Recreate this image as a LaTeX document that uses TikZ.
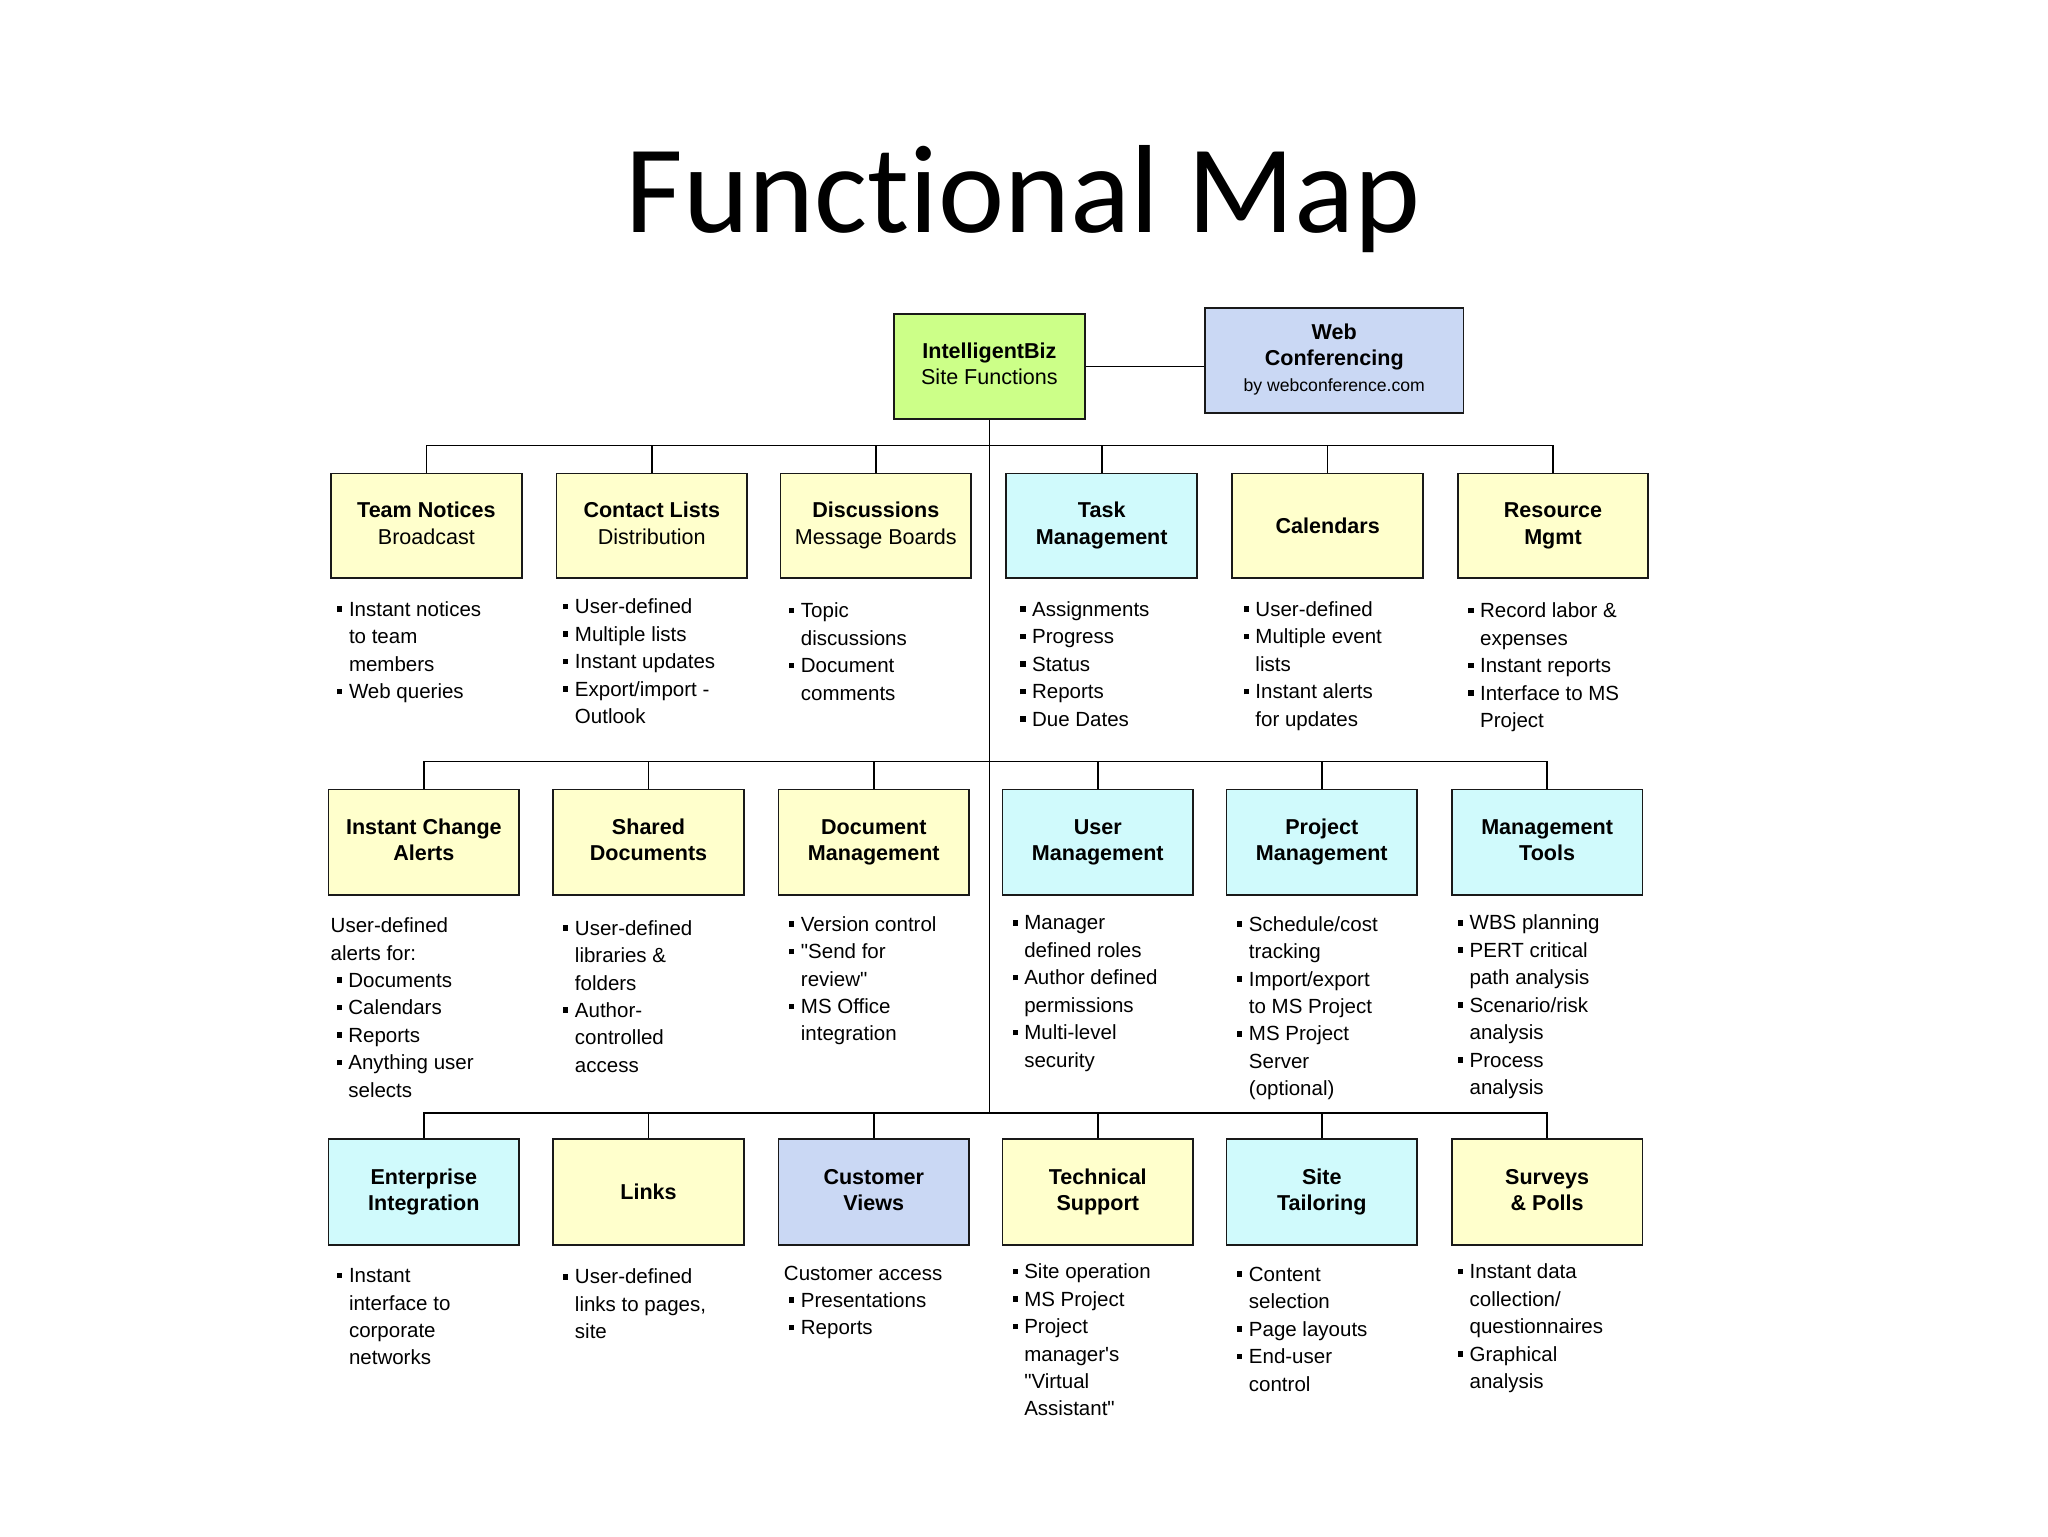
\documentclass[tikz,border=0pt]{standalone}
\usepackage{fontspec}
\setmainfont{Liberation Sans}
\newfontfamily\arial{Liberation Sans}
\newfontfamily\titlefont{Carlito}[Ligatures=NoCommon]
\definecolor{byel}{RGB}{255,255,204}
\definecolor{bcyan}{RGB}{208,250,252}
\definecolor{bgreen}{RGB}{204,255,136}
\definecolor{bblue}{RGB}{202,216,244}
\newcommand\bl{\makebox[9pt][l]{\rule[3.4pt]{4pt}{4.3pt}}}
\newcommand\ind{\hspace*{9pt}}
\newcommand\sub[1]{{\mdseries #1}}
\begin{document}
\begin{tikzpicture}[x=1pt,y=-1pt,
  box/.style={draw=black!90, line width=1.4pt, minimum width=146pt, minimum height=80pt, inner sep=0pt,
    font=\arial\fontsize{16.5}{20}\selectfont\bfseries},
  ybox/.style={box, fill=byel},
  cbox/.style={box, fill=bcyan},
  gbox/.style={box, fill=bgreen},
  bbox/.style={box, fill=bblue},
  tall/.style={minimum height=81pt},
  lst/.style={inner sep=0pt, anchor=base west, font=\arial\fontsize{15.7}{21}\selectfont},
  link/.style={line width=1.2pt, draw=black}]
\useasboundingbox (0,0) rectangle (1568,1176);
\fill[white] (0,0) rectangle (1568,1176);

\node[anchor=base, inner sep=0pt, font=\titlefont\fontsize{96}{100}\selectfont] (title) at (783.5,178) {Functional Map};

% root and web conferencing
\node[gbox] (root) at (757.5,280.5) {\begin{tabular}{@{}c@{}}IntelligentBiz\\\sub{Site Functions}\end{tabular}};
\node[bbox, minimum width=198pt, tall] (web) at (1021.5,276) {\begin{tabular}{@{}c@{}}Web\\Conferencing\\{\mdseries\fontsize{13.5}{16}\selectfont by webconference.com}\end{tabular}};
\draw[link] (root.east) -- (root.east -| web.west);

\coordinate (bus1) at (757,341);
\coordinate (bus2) at (757,583);
\coordinate (bus3) at (757,852);

% row 1
\node[ybox] (a1) at (326.5,402.5) {\begin{tabular}{@{}c@{}}Team Notices\\\sub{Broadcast}\end{tabular}};
\node[ybox] (a2) at (499,402.5) {\begin{tabular}{@{}c@{}}Contact Lists\\\sub{Distribution}\end{tabular}};
\node[ybox] (a3) at (670.5,402.5) {\begin{tabular}{@{}c@{}}Discussions\\\sub{Message Boards}\end{tabular}};
\node[cbox] (a4) at (843.5,402.5) {\begin{tabular}{@{}c@{}}Task\\Management\end{tabular}};
\node[ybox] (a5) at (1016.5,402.5) {Calendars};
\node[ybox] (a6) at (1189,402.5) {\begin{tabular}{@{}c@{}}Resource\\Mgmt\end{tabular}};

% row 2
\node[ybox, tall] (b1) at (324.5,645) {\begin{tabular}{@{}c@{}}Instant Change\\Alerts\end{tabular}};
\node[ybox, tall] (b2) at (496.5,645) {\begin{tabular}{@{}c@{}}Shared\\Documents\end{tabular}};
\node[ybox, tall] (b3) at (669,645) {\begin{tabular}{@{}c@{}}Document\\Management\end{tabular}};
\node[cbox, tall] (b4) at (840.5,645) {\begin{tabular}{@{}c@{}}User\\Management\end{tabular}};
\node[cbox, tall] (b5) at (1012,645) {\begin{tabular}{@{}c@{}}Project\\Management\end{tabular}};
\node[cbox, tall] (b6) at (1184.5,645) {\begin{tabular}{@{}c@{}}Management\\Tools\end{tabular}};

% row 3
\node[cbox, tall] (c1) at (324.5,912.5) {\begin{tabular}{@{}c@{}}Enterprise\\Integration\end{tabular}};
\node[ybox, tall] (c2) at (496.5,912.5) {Links};
\node[bbox, tall] (c3) at (669,912.5) {\begin{tabular}{@{}c@{}}Customer\\Views\end{tabular}};
\node[ybox, tall] (c4) at (840.5,912.5) {\begin{tabular}{@{}c@{}}Technical\\Support\end{tabular}};
\node[cbox, tall] (c5) at (1012,912.5) {\begin{tabular}{@{}c@{}}Site\\Tailoring\end{tabular}};
\node[ybox, tall] (c6) at (1184.5,912.5) {\begin{tabular}{@{}c@{}}Surveys\\\& Polls\end{tabular}};

% connectors
\draw[link] (root.south) -- (root.south |- bus3);
\draw[link] (a1.north) -- (a1.north |- bus1) -- (a6.north |- bus1) -- (a6.north);
\draw[link] (b1.north) -- (b1.north |- bus2) -- (b6.north |- bus2) -- (b6.north);
\draw[link] (c1.north) -- (c1.north |- bus3) -- (c6.north |- bus3) -- (c6.north);
\foreach \n in {a2,a3,a4,a5}{\draw[link] (\n.north) -- (\n.north |- bus1);}
\foreach \n in {b2,b3,b4,b5}{\draw[link] (\n.north) -- (\n.north |- bus2);}
\foreach \n in {c2,c3,c4,c5}{\draw[link] (\n.north) -- (\n.north |- bus3);}

% lists row 1
\node[lst] (la1) at (258,472) {\begin{tabular}[t]{@{}l@{}}\bl Instant notices\\\ind to team\\\ind members\\\bl Web queries\end{tabular}};
\node[lst] (la2) at (431,470) {\begin{tabular}[t]{@{}l@{}}\bl User-defined\\\bl Multiple lists\\\bl Instant updates\\\bl Export/import -\\\ind Outlook\end{tabular}};
\node[lst] (la3) at (604,473) {\begin{tabular}[t]{@{}l@{}}\bl Topic\\\ind discussions\\\bl Document\\\ind comments\end{tabular}};
\node[lst] (la4) at (781,472) {\begin{tabular}[t]{@{}l@{}}\bl Assignments\\\bl Progress\\\bl Status\\\bl Reports\\\bl Due Dates\end{tabular}};
\node[lst] (la5) at (952,472) {\begin{tabular}[t]{@{}l@{}}\bl User-defined\\\bl Multiple event\\\ind lists\\\bl Instant alerts\\\ind for updates\end{tabular}};
\node[lst] (la6) at (1124,473) {\begin{tabular}[t]{@{}l@{}}\bl Record labor \&\\\ind expenses\\\bl Instant reports\\\bl Interface to MS\\\ind Project\end{tabular}};

% lists row 2
\node[lst] (lb1) at (253,714) {\begin{tabular}[t]{@{}l@{}}User-defined\\alerts for:\\\hspace*{4.5pt}\bl Documents\\\hspace*{4.5pt}\bl Calendars\\\hspace*{4.5pt}\bl Reports\\\hspace*{4.5pt}\bl Anything user\\\hspace*{4.5pt}\ind selects\end{tabular}};
\node[lst] (lb2) at (431,716) {\begin{tabular}[t]{@{}l@{}}\bl User-defined\\\ind libraries \&\\\ind folders\\\bl Author-\\\ind controlled\\\ind access\end{tabular}};
\node[lst] (lb3) at (604,713) {\begin{tabular}[t]{@{}l@{}}\bl Version control\\\bl "Send for\\\ind review"\\\bl MS Office\\\ind integration\end{tabular}};
\node[lst] (lb4) at (775,712) {\begin{tabular}[t]{@{}l@{}}\bl Manager\\\ind defined roles\\\bl Author defined\\\ind permissions\\\bl Multi-level\\\ind security\end{tabular}};
\node[lst] (lb5) at (947,713) {\begin{tabular}[t]{@{}l@{}}\bl Schedule/cost\\\ind tracking\\\bl Import/export\\\ind to MS Project\\\bl MS Project\\\ind Server\\\ind (optional)\end{tabular}};
\node[lst] (lb6) at (1116,712) {\begin{tabular}[t]{@{}l@{}}\bl WBS planning\\\bl PERT critical\\\ind path analysis\\\bl Scenario/risk\\\ind analysis\\\bl Process\\\ind analysis\end{tabular}};

% lists row 3
\node[lst] (lc1) at (258,982) {\begin{tabular}[t]{@{}l@{}}\bl Instant\\\ind interface to\\\ind corporate\\\ind networks\end{tabular}};
\node[lst] (lc2) at (431,983) {\begin{tabular}[t]{@{}l@{}}\bl User-defined\\\ind links to pages,\\\ind site\end{tabular}};
\node[lst] (lc3) at (600,980) {\begin{tabular}[t]{@{}l@{}}Customer access\\\hspace*{4pt}\bl Presentations\\\hspace*{4pt}\bl Reports\end{tabular}};
\node[lst] (lc4) at (775,979) {\begin{tabular}[t]{@{}l@{}}\bl Site operation\\\bl MS Project\\\bl Project\\\ind manager's\\\ind "Virtual\\\ind Assistant"\end{tabular}};
\node[lst] (lc5) at (947,981) {\begin{tabular}[t]{@{}l@{}}\bl Content\\\ind selection\\\bl Page layouts\\\bl End-user\\\ind control\end{tabular}};
\node[lst] (lc6) at (1116,979) {\begin{tabular}[t]{@{}l@{}}\bl Instant data\\\ind collection/\\\ind questionnaires\\\bl Graphical\\\ind analysis\end{tabular}};
\end{tikzpicture}
\end{document}
